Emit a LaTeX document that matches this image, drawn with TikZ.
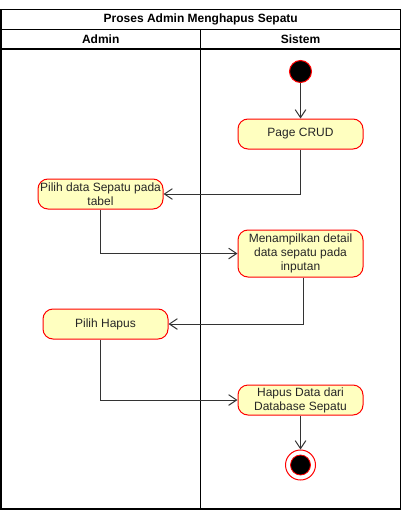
\documentclass[tikz,border=0pt]{standalone}
\usepackage{fontspec}
\setmainfont{Liberation Sans}
\usetikzlibrary{arrows.meta}
\begin{document}
\begin{tikzpicture}[x=0.75pt,y=-0.75pt,
  act/.style={draw=red, fill={rgb,255:red,255;green,255;blue,192}, rounded corners=7.5pt,
    line width=0.75pt, minimum width=125*0.75pt, minimum height=30*0.75pt,
    inner sep=0pt, align=center, font=\fontsize{9}{10.5}\selectfont, text=black!85},
  flow/.style={draw=black!80, line width=0.75pt, -{Straight Barb[length=6pt,width=8pt]}},
  lane/.style={draw=black, line width=0.9pt},
  hdr/.style={font=\fontsize{9}{10.5}\selectfont\bfseries, inner sep=0pt}]
\useasboundingbox (0,0) rectangle (402,510);
% swimlane frame
\draw[lane] (1,9.5) rectangle (400.5,509);
\draw[lane] (1,29.5) -- (400.5,29.5);
\draw[lane] (1,49) -- (400.5,49);
\draw[lane] (200.5,29.5) -- (200.5,509);
\node[hdr] (title) at (200.75,19.5) {Proses Admin Menghapus Sepatu};
\node[hdr] (ladmin) at (100.75,39.25) {Admin};
\node[hdr] (lsistem) at (300.5,39.25) {Sistem};
% nodes
\node[circle, draw=red, fill=black, line width=0.75pt, minimum size=22*0.75pt, inner sep=0pt] (start) at (300.5,71.5) {};
\node[act] (crud) at (300.5,134) {Page CRUD};
\node[act] (pilihdata) at (100.5,194) {Pilih data Sepatu pada\\tabel};
\node[act, minimum height=47*0.75pt] (tampil) at (300.5,253.5) {Menampilkan detail\\data sepatu pada\\inputan};
\node[act] (hapus) at (105.5,324) {Pilih Hapus};
\node[act] (hapusdb) at (300.5,400) {Hapus Data dari\\Database Sepatu};
\node[circle, draw=red, fill=white, line width=0.75pt, minimum size=30*0.75pt, inner sep=0pt] (end) at (300.5,465) {};
\node[circle, draw=red, fill=black, line width=0.6pt, minimum size=20*0.75pt, inner sep=0pt] (endin) at (end.center) {};
% connectors
\draw[flow] (start) -- (crud);
\draw[flow] (crud.south) |- (pilihdata.east);
\draw[flow] (pilihdata.south) |- (tampil.west);
\draw[flow] ([xshift=2pt]tampil.south) |- (hapus.east);
\draw[flow] ([xshift=-3.75pt]hapus.south) |- (hapusdb.west);
\draw[flow] (hapusdb) -- (end);
\end{tikzpicture}
\end{document}
